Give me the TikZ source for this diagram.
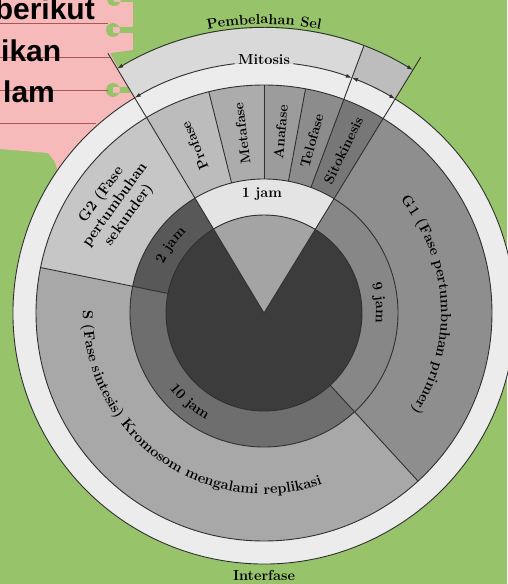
\documentclass[tikz,border=0pt]{standalone}
\usepackage{fontspec}
\newfontfamily\notefont{Liberation Sans}
\usetikzlibrary{arrows.meta,decorations.text}

\definecolor{bggreen}{HTML}{97C36B}
\definecolor{notepink}{HTML}{F6BABA}
\definecolor{noteline}{HTML}{A85656}
\definecolor{edge}{HTML}{303030}
\definecolor{outring}{HTML}{ECECEC}
\definecolor{bandmit}{HTML}{D9D9D9}
\definecolor{bandsito}{HTML}{BDBDBD}
\definecolor{gone}{HTML}{8E8E8E}
\definecolor{sphase}{HTML}{A8A8A8}
\definecolor{gtwo}{HTML}{C6C6C6}
\definecolor{pro}{HTML}{BCBCBC}
\definecolor{meta}{HTML}{ACACAC}
\definecolor{ana}{HTML}{9C9C9C}
\definecolor{telo}{HTML}{8C8C8C}
\definecolor{sito}{HTML}{777777}
\definecolor{hourone}{HTML}{E4E4E4}
\definecolor{hourtwo}{HTML}{585858}
\definecolor{hourten}{HTML}{6E6E6E}
\definecolor{hournine}{HTML}{878787}
\definecolor{core}{HTML}{3C3C3C}
\definecolor{wedge}{HTML}{A4A4A4}

\newcommand{\ringpart}[5]{\fill[#1] (#2:#4) arc[start angle=#2,end angle=#3,radius=#4]
  -- (#3:#5) arc[start angle=#3,end angle=#2,radius=#5] -- cycle;}

\tikzset{
  lbl/.style={font=\fontsize{14.5}{15}\selectfont\bfseries,inner sep=0pt},
  phaselbl/.style={font=\fontsize{14}{15}\selectfont\bfseries,inner sep=0pt},
  notetext/.style={font=\fontsize{30}{32}\selectfont\notefont\bfseries,inner sep=0pt},
  divline/.style={draw=edge,line width=0.9pt},
  bendtext/.style={decorate,decoration={text along path,text align=center,
    text={|\fontsize{14.5}{15}\selectfont\bfseries|#1}}}
}

\begin{document}
\begin{tikzpicture}[x=1pt,y=1pt,>={Latex[length=6pt,width=4pt]}]
\useasboundingbox (-264,-271) rectangle (243,313);
\fill[bggreen] (-264,-271) rectangle (243,313);
\begin{scope}[shift={(-264,313)},yscale=-1]
\fill[notepink] (0,0)--(133,0)--(133,50)--(110,53)--(140,107)--(60,180)--(55,162)--(48,153)--(0,149)--cycle;
\fill[bggreen] (114,-1) circle[radius=7] (114,-4) rectangle (134,2);
\fill[bggreen] (113,30) circle[radius=7] (113,27) rectangle (134,33);
\fill[bggreen] (113,90) circle[radius=7] (113,87) rectangle (130,93);
\foreach \y/\e in {23/108,57/110,90/108,123/96} \draw[noteline,line width=0.8pt] (0,\y)--(\e,\y);
\node[notetext,anchor=base east] (berikut) at (95,20) {berikut};
\node[notetext,anchor=base west] (ikan) at (1,62) {ikan};
\node[notetext,anchor=base west] (lam) at (3,103) {lam};
\end{scope}
\ringpart{outring}{0}{360}{251}{228}
\ringpart{bandmit}{69.5}{121}{285}{251}
\ringpart{bandsito}{58.5}{69.5}{285}{251}
\ringpart{gone}{-47.5}{58.5}{228}{134}
\ringpart{sphase}{168.5}{312.5}{228}{134}
\ringpart{gtwo}{121}{168.5}{228}{134}
\ringpart{pro}{104}{121}{228}{134}
\ringpart{meta}{90}{104}{228}{134}
\ringpart{ana}{79.5}{90}{228}{134}
\ringpart{telo}{69.5}{79.5}{228}{134}
\ringpart{sito}{58.5}{69.5}{228}{134}
\ringpart{hourone}{58.5}{121}{134}{98}
\ringpart{hourtwo}{121}{168.5}{134}{98}
\ringpart{hourten}{168.5}{312.5}{134}{98}
\ringpart{hournine}{-47.5}{58.5}{134}{98}
\fill[core] (0,0) circle[radius=98];
\fill[wedge] (0,0)--(58.5:98) arc[start angle=58.5,end angle=121,radius=98]--cycle;
\draw[divline] (0,0) circle[radius=98] (0,0) circle[radius=134] (0,0) circle[radius=228];
\draw[divline] (121:251) arc[start angle=121,end angle=418.5,radius=251];
\foreach \a/\ri/\ro in {121/0/303,58.5/0/300,69.5/134/285,104/134/228,90/134/228,79.5/134/228,168.5/98/228,312.5/98/228}
  \draw[divline] (\a:\ri)--(\a:\ro);
\draw[divline,<->] (121:285) arc[start angle=121,end angle=58.5,radius=285];
\draw[divline,->] (96.7:251) arc[start angle=96.7,end angle=121,radius=251];
\draw[divline,->] (83.3:251) arc[start angle=83.3,end angle=69.5,radius=251];
\draw[divline,<->] (69.5:251) arc[start angle=69.5,end angle=58.5,radius=251];
\node[lbl] (mitosis) at (90:253) {Mitosis};
\path[bendtext={Pembelahan Sel}] (120:289) arc[start angle=120,end angle=60,radius=289];
\node[phaselbl,rotate=112.5] (profase) at (112.5:181) {Profase};
\node[phaselbl,rotate=97] (metafase) at (97:181) {Metafase};
\node[phaselbl,rotate=84.75] (anafase) at (84.75:182) {Anafase};
\node[phaselbl,rotate=74.5] (telofase) at (74.5:179) {Telofase};
\node[phaselbl,rotate=64] (sitokinesis) at (64:181) {Sitokinesis};
\node[lbl,rotate=54,align=center,font=\fontsize{15}{17}\selectfont\bfseries] (gdua) at (144:184) {G2 (Fase\\pertumbuhan\\sekunder)};
\node[lbl] (satujam) at (91:119) {1 jam};
\path[bendtext={G1 (Fase pertumbuhan primer)}] (50:177) arc[start angle=50,end angle=-44,radius=177];
\path[bendtext={S (Fase sintesis) Kromosom mengalami replikasi}] (160:181) arc[start angle=160,end angle=308,radius=181];
\path[bendtext={9 jam}] (35:112) arc[start angle=35,end angle=-25,radius=112];
\path[bendtext={2 jam}] (174:112) arc[start angle=174,end angle=114,radius=112];
\path[bendtext={10 jam}] (200:121) arc[start angle=200,end angle=260,radius=121];
\node[lbl] (interfase) at (0,-262) {Interfase};
\end{tikzpicture}
\end{document}
